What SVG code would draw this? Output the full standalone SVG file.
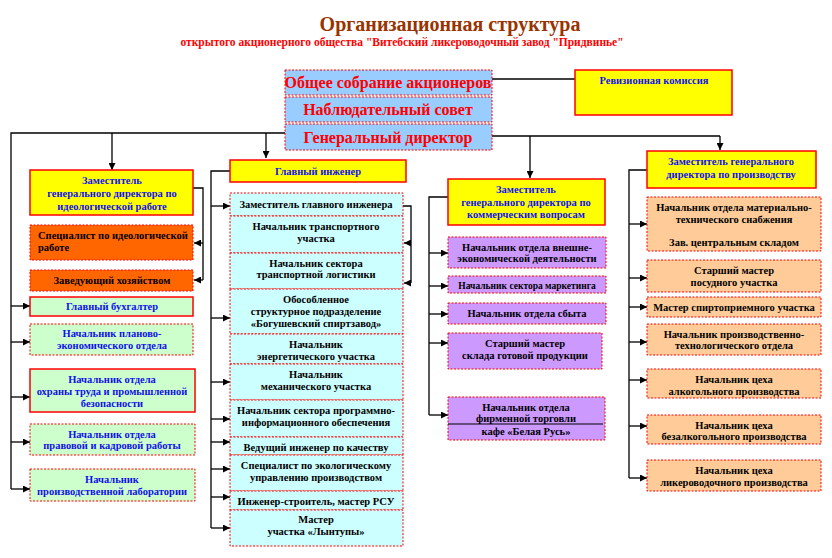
<svg xmlns="http://www.w3.org/2000/svg" width="832" height="558" viewBox="0 0 832 558">
<style>
text{font-family:"Liberation Serif","Times New Roman",serif;font-weight:bold;text-anchor:middle}
.t{font-size:10.5px;fill:#000}
.b{font-size:10.5px;fill:#1010ee}
.top{font-size:16px;fill:#ff0000}
.d{stroke:#ff0000;stroke-width:1;stroke-dasharray:2,1.5}
.s{stroke:#ff0000;stroke-width:1.5}
.bl{fill:#99ccff}.y{fill:#ffff00}.o{fill:#ff6600}.g{fill:#ccffcc}.c{fill:#ccffff}.p{fill:#cc99ff}.pe{fill:#ffcc99}
#conn path{fill:none;stroke:#000;stroke-width:1.3}
</style>
<defs><marker id="a" viewBox="0 0 10 10" refX="10" refY="5" markerWidth="7" markerHeight="7" orient="auto" markerUnits="userSpaceOnUse"><path d="M0,0L10,5L0,10z" fill="#000"/></marker></defs>
<rect width="832" height="558" fill="#fff"/>
<text x="450" y="31" style="font-size:20px;fill:#993300">Организационная структура</text>
<text x="402" y="46" style="font-size:11.5px;fill:#ff0000">открытого акционерного общества "Витебский ликероводочный завод "Придвинье"</text>
<g id="conn">
<path d="M492,79H575"/>
<path d="M285,133H11V489"/>
<path d="M492,136H720"/>
<path d="M112,133V170" marker-end="url(#a)"/>
<path d="M266,133V158" marker-end="url(#a)"/>
<path d="M530,136V178" marker-end="url(#a)"/>
<path d="M720,136V150" marker-end="url(#a)"/>
<path d="M193,188H203V280"/>
<path d="M203,243H194" marker-end="url(#a)"/>
<path d="M203,280H194" marker-end="url(#a)"/>
<path d="M11,306H30" marker-end="url(#a)"/>
<path d="M11,342H30" marker-end="url(#a)"/>
<path d="M11,397H30" marker-end="url(#a)"/>
<path d="M11,442H30" marker-end="url(#a)"/>
<path d="M11,489H30" marker-end="url(#a)"/>
<path d="M230,171H211V528"/>
<path d="M211,206H230" marker-end="url(#a)"/>
<path d="M211,318H230" marker-end="url(#a)"/>
<path d="M211,382H230" marker-end="url(#a)"/>
<path d="M211,419H230" marker-end="url(#a)"/>
<path d="M211,442H230" marker-end="url(#a)"/>
<path d="M211,469H230" marker-end="url(#a)"/>
<path d="M211,497H230" marker-end="url(#a)"/>
<path d="M211,528H230" marker-end="url(#a)"/>
<path d="M403,206H411V283"/>
<path d="M411,243H404" marker-end="url(#a)"/>
<path d="M411,283H404" marker-end="url(#a)"/>
<path d="M448,197H429V415"/>
<path d="M429,253H448" marker-end="url(#a)"/>
<path d="M429,286H448" marker-end="url(#a)"/>
<path d="M429,314H448" marker-end="url(#a)"/>
<path d="M429,343H448" marker-end="url(#a)"/>
<path d="M429,415H448" marker-end="url(#a)"/>
<path d="M647,170H629V478"/>
<path d="M629,224H647" marker-end="url(#a)"/>
<path d="M629,278H647" marker-end="url(#a)"/>
<path d="M629,307H647" marker-end="url(#a)"/>
<path d="M629,342H647" marker-end="url(#a)"/>
<path d="M629,380H647" marker-end="url(#a)"/>
<path d="M629,426H647" marker-end="url(#a)"/>
<path d="M629,478H647" marker-end="url(#a)"/>
</g>
<g id="n-sobranie"><rect x="285" y="70" width="207" height="25" class="bl d"/><text x="388" y="88" class="top">Общее собрание акционеров</text></g>
<g id="n-sovet"><rect x="285" y="97" width="207" height="25" class="bl d"/><text x="388" y="115" class="top">Наблюдательный совет</text></g>
<g id="n-gendir"><rect x="285" y="124" width="207" height="26" class="bl d"/><text x="388" y="143" class="top">Генеральный директор</text></g>
<g id="n-revizia"><rect x="575" y="70" width="157" height="45" class="y s"/><text x="654" y="84" class="b">Ревизионная комиссия</text></g>

<g id="n-zam-ideo"><rect x="30" y="170" width="163" height="45" class="y s"/><text x="112" y="184" class="b"><tspan x="112">Заместитель</tspan><tspan x="112" dy="13">генерального директора по</tspan><tspan x="112" dy="13">идеологической работе</tspan></text></g>
<g id="n-spec-ideo"><rect x="30" y="225" width="163" height="35" class="o d"/><text x="38" y="239" class="t" style="text-anchor:start"><tspan x="38">Специалист по идеологической</tspan><tspan x="38" dy="12">работе</tspan></text></g>
<g id="n-zavhoz"><rect x="30" y="270" width="163" height="21" class="o d"/><text x="112" y="284" class="t">Заведующий хозяйством</text></g>
<g id="n-buh"><rect x="30" y="297" width="163" height="19" class="g s"/><text x="112" y="310" class="b">Главный бухгалтер</text></g>
<g id="n-plan"><rect x="30" y="324" width="163" height="31" class="g d"/><text x="112" y="337" class="b"><tspan x="112">Начальник планово-</tspan><tspan x="112" dy="12">экономического отдела</tspan></text></g>
<g id="n-ohrana"><rect x="30" y="369" width="165" height="43" class="g s"/><text x="112" y="383" class="b"><tspan x="112">Начальник отдела</tspan><tspan x="112" dy="12">охраны труда и промышленной</tspan><tspan x="112" dy="12">безопасности</tspan></text></g>
<g id="n-pravo"><rect x="30" y="424" width="165" height="31" class="g d"/><text x="112" y="438" class="b"><tspan x="112">Начальник отдела</tspan><tspan x="112" dy="11">правовой и кадровой работы</tspan></text></g>
<g id="n-lab"><rect x="30" y="469" width="165" height="32" class="g d"/><text x="112" y="483" class="b"><tspan x="112">Начальник</tspan><tspan x="112" dy="12">производственной лаборатории</tspan></text></g>

<g id="n-glinzh"><rect x="230" y="160" width="176" height="22" class="y s"/><text x="318" y="175" class="b">Главный инженер</text></g>
<g id="n-c1"><rect x="230" y="193" width="173" height="23" class="c d"/><text x="316" y="208" class="t">Заместитель главного инженера</text></g>
<g id="n-c2"><rect x="230" y="216" width="173" height="37" class="c d"/><text x="316" y="230" class="t"><tspan x="316">Начальник транспортного</tspan><tspan x="316" dy="12">участка</tspan></text></g>
<g id="n-c3"><rect x="230" y="253" width="173" height="36" class="c d"/><text x="316" y="267" class="t"><tspan x="316">Начальник сектора</tspan><tspan x="316" dy="11">транспортной логистики</tspan></text></g>
<g id="n-c4"><rect x="230" y="289" width="173" height="45" class="c d"/><text x="316" y="303" class="t"><tspan x="316">Обособленное</tspan><tspan x="316" dy="12">структурное подразделение</tspan><tspan x="316" dy="12">«Богушевский  спиртзавод»</tspan></text></g>
<g id="n-c5"><rect x="230" y="334" width="173" height="30" class="c d"/><text x="316" y="348" class="t"><tspan x="316">Начальник</tspan><tspan x="316" dy="12">энергетического участка</tspan></text></g>
<g id="n-c6"><rect x="230" y="364" width="173" height="36" class="c d"/><text x="316" y="378" class="t"><tspan x="316">Начальник</tspan><tspan x="316" dy="12">механического участка</tspan></text></g>
<g id="n-c7"><rect x="230" y="400" width="173" height="37" class="c d"/><text x="316" y="414" class="t"><tspan x="316">Начальник сектора программно-</tspan><tspan x="316" dy="12">информационного обеспечения</tspan></text></g>
<g id="n-c8"><rect x="230" y="437" width="173" height="18" class="c d"/><text x="316" y="451" class="t">Ведущий инженер по качеству</text></g>
<g id="n-c9"><rect x="230" y="455" width="173" height="36" class="c d"/><text x="316" y="469" class="t"><tspan x="316">Специалист по экологическому</tspan><tspan x="316" dy="12">управлению производством</tspan></text></g>
<g id="n-c10"><rect x="230" y="491" width="173" height="19" class="c d"/><text x="316" y="505" class="t">Инженер-строитель, мастер РСУ</text></g>
<g id="n-c11"><rect x="230" y="510" width="173" height="36" class="c d"/><text x="316" y="523" class="t"><tspan x="316">Мастер</tspan><tspan x="316" dy="12">участка «Лынтупы»</tspan></text></g>

<g id="n-zam-komm"><rect x="448" y="179" width="157" height="46" class="y s"/><text x="526" y="193" class="b"><tspan x="526">Заместитель</tspan><tspan x="526" dy="13">генерального директора по</tspan><tspan x="526" dy="12">коммерческим вопросам</tspan></text></g>
<g id="n-p1"><rect x="448" y="237" width="158" height="31" class="p d"/><text x="527" y="251" class="t"><tspan x="527">Начальник отдела внешне-</tspan><tspan x="527" dy="11">экономической деятельности</tspan></text></g>
<g id="n-p2"><rect x="448" y="276" width="158" height="17" class="p d"/><text x="527" y="289" class="t" style="font-size:9.5px">Начальник сектора маркетинга</text></g>
<g id="n-p3"><rect x="448" y="303" width="158" height="21" class="p d"/><text x="527" y="317" class="t">Начальник отдела сбыта</text></g>
<g id="n-p4"><rect x="448" y="333" width="154" height="36" class="p d"/><text x="525" y="347" class="t"><tspan x="525">Старший мастер</tspan><tspan x="525" dy="12">склада готовой  продукции</tspan></text></g>
<g id="n-p5"><rect x="448" y="397" width="157" height="43" class="p d"/><path d="M448,424H603" stroke="#000" stroke-width="1"/><text x="526" y="411" class="t"><tspan x="526">Начальник отдела</tspan><tspan x="526" dy="11">фирменной торговли</tspan><tspan x="526" dy="13">кафе «Белая Русь»</tspan></text></g>

<g id="n-zam-proizv"><rect x="647" y="151" width="169" height="37" class="y s"/><text x="731" y="165" class="b"><tspan x="731">Заместитель генерального</tspan><tspan x="731" dy="13">директора по производству</tspan></text></g>
<g id="n-r1"><rect x="647" y="197" width="174" height="54" class="pe d"/><text x="734" y="211" class="t"><tspan x="734">Начальник отдела материально-</tspan><tspan x="734" dy="12">технического снабжения</tspan><tspan x="734" dy="23">Зав. центральным складом</tspan></text></g>
<g id="n-r2"><rect x="647" y="260" width="174" height="32" class="pe d"/><text x="734" y="274" class="t"><tspan x="734">Старший мастер</tspan><tspan x="734" dy="12">посудного участка</tspan></text></g>
<g id="n-r3"><rect x="647" y="297" width="174" height="20" class="pe d"/><text x="734" y="311" class="t">Мастер спиртоприемного участка</text></g>
<g id="n-r4"><rect x="647" y="324" width="174" height="31" class="pe d"/><text x="734" y="338" class="t"><tspan x="734">Начальник производственно-</tspan><tspan x="734" dy="11">технологического отдела</tspan></text></g>
<g id="n-r5"><rect x="647" y="369" width="174" height="29" class="pe d"/><text x="734" y="383" class="t"><tspan x="734">Начальник  цеха</tspan><tspan x="734" dy="12">алкогольного производства</tspan></text></g>
<g id="n-r6"><rect x="647" y="415" width="174" height="29" class="pe d"/><text x="734" y="429" class="t"><tspan x="734">Начальник  цеха</tspan><tspan x="734" dy="11">безалкогольного производства</tspan></text></g>
<g id="n-r7"><rect x="647" y="460" width="174" height="31" class="pe d"/><text x="734" y="474" class="t"><tspan x="734">Начальник цеха</tspan><tspan x="734" dy="12">ликероводочного производства</tspan></text></g>
</svg>
